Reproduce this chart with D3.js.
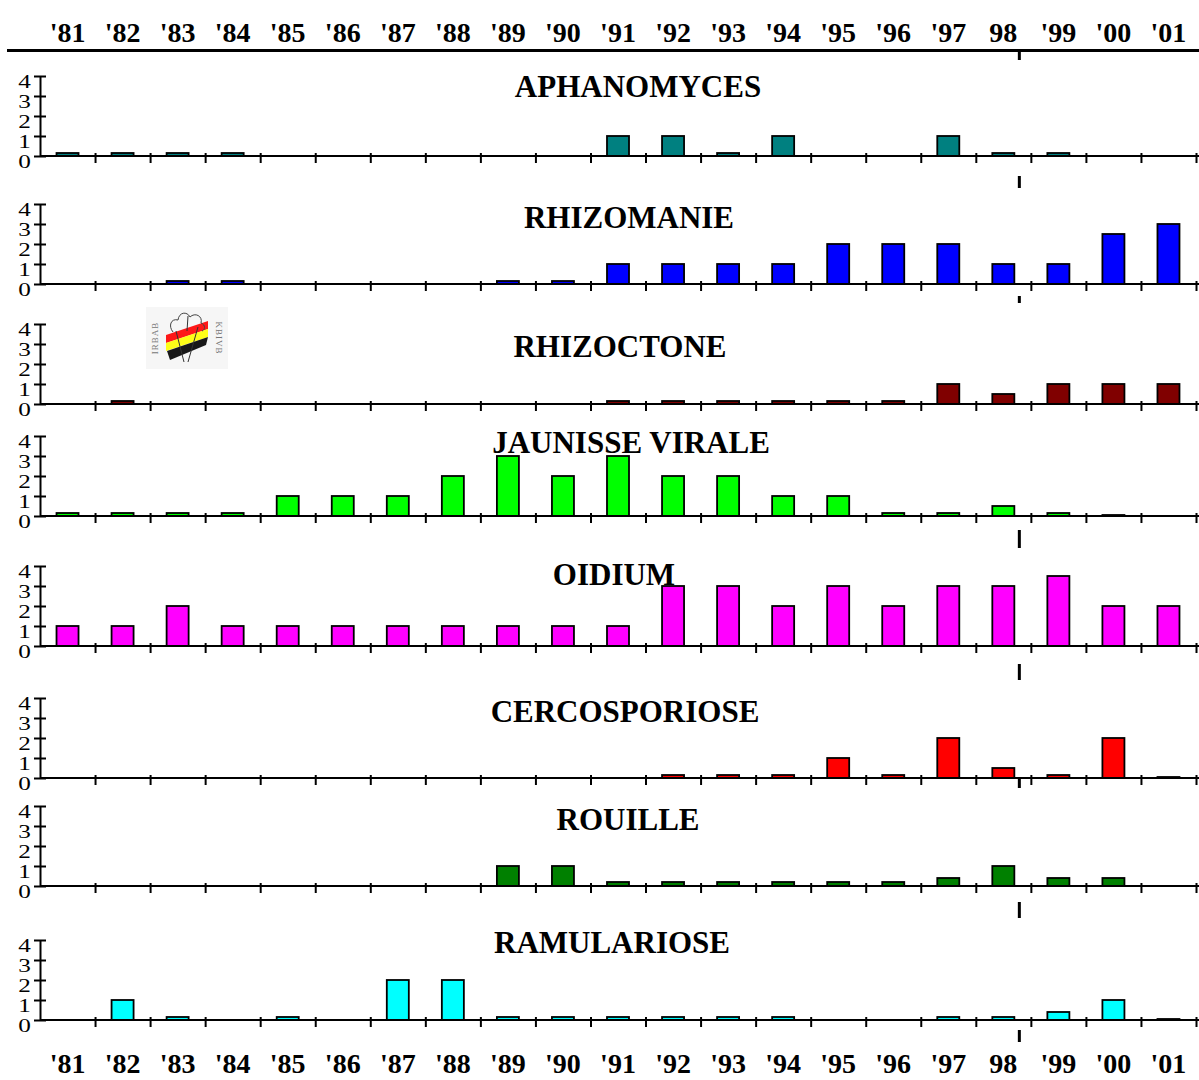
<!DOCTYPE html>
<html lang="fr">
<head>
<meta charset="UTF-8" />
<title>Maladies de la betterave 1981-2001</title>
<style>
  body { margin: 0; background: #fff; font-family: 'Liberation Serif', 'Times New Roman', serif; }
  svg { display: block; }
  .year { font-size: 28px; font-weight: bold; text-anchor: middle; }
  .title { font-size: 31px; font-weight: bold; text-anchor: middle; }
  .y-axis line, .y-axis path, .x-ticks line { stroke: #000; stroke-width: 2; }
  .bar { stroke: #000; stroke-width: 1.8; }
</style>
</head>
<body>
<script src="https://d3js.org/d3.v7.min.js"></script>
<script>
const years = ["'81", "'82", "'83", "'84", "'85", "'86", "'87", "'88", "'89", "'90", "'91",
  "'92", "'93", "'94", "'95", "'96", "'97", "98", "'99", "'00", "'01"];
const diseases = ['APHANOMYCES', 'RHIZOMANIE', 'RHIZOCTONE', 'JAUNISSE VIRALE',
  'OIDIUM', 'CERCOSPORIOSE', 'ROUILLE', 'RAMULARIOSE'];

const aphanomyces   = [0.15, 0.15, 0.15, 0.15, 0, 0, 0, 0, 0, 0, 1, 1, 0.15, 1, 0, 0, 1, 0.15, 0.15, 0, 0];
const rhizomanie    = [0, 0, 0.15, 0.15, 0, 0, 0, 0, 0.15, 0.15, 1, 1, 1, 1, 2, 2, 2, 1, 1, 2.5, 3];
const rhizoctone    = [0, 0.15, 0, 0, 0, 0, 0, 0, 0, 0, 0.15, 0.15, 0.15, 0.15, 0.15, 0.15, 1, 0.5, 1, 1, 1];
const jaunisse      = [0.15, 0.15, 0.15, 0.15, 1, 1, 1, 2, 3, 2, 3, 2, 2, 1, 1, 0.15, 0.15, 0.5, 0.15, 0.05, 0];
const oidium        = [1, 1, 2, 1, 1, 1, 1, 1, 1, 1, 1, 3, 3, 2, 3, 2, 3, 3, 3.5, 2, 2];
const cercosporiose = [0, 0, 0, 0, 0, 0, 0, 0, 0, 0, 0, 0.15, 0.15, 0.15, 1, 0.15, 2, 0.5, 0.15, 2, 0.05];
const rouille       = [0, 0, 0, 0, 0, 0, 0, 0, 1, 1, 0.2, 0.2, 0.2, 0.2, 0.2, 0.2, 0.4, 1, 0.4, 0.4, 0];
const ramulariose   = [0, 1, 0.15, 0, 0.15, 0, 2, 2, 0.15, 0.15, 0.15, 0.15, 0.15, 0.15, 0, 0, 0.15, 0.15, 0.4, 1, 0.05];

const series = [aphanomyces, rhizomanie, rhizoctone, jaunisse, oidium, cercosporiose, rouille, ramulariose];
const colors = ['#008080', '#0000ff', '#800000', '#00ff00', '#ff00ff', '#ff0000', '#008000', '#00ffff'];
const yTicks = [0, 1, 2, 3, 4];

// mise en page
const width = 1199;
const height = 1080;
const axisX = 40;
const axisEnd = 1196;
const panelH = 80;
const baselines = [156, 284, 404, 516, 646, 778, 886, 1020];
const titleYs = [97, 228, 357, 453, 585, 722, 830, 953];
const titleXs = [638, 629, 620, 631, 614, 625, 628, 612];
const markerGaps = [[20, 32], [12, 19], null, [14, 32], [18, 34], [1, 10], [16, 32], [10, 22]];

const svg = d3.select('body').append('svg').attr('width', width).attr('height', height);

const x = d3.scaleBand().domain(years).range([axisX, axisEnd]).paddingInner(0.6).paddingOuter(0.3);
const xEdge = d3.scaleLinear().domain([0, years.length]).range([axisX, axisEnd]);
const markerX = x('98') + x.bandwidth() + 5;

// années en haut et en bas
const yearRows = [42, 1073];
yearRows.forEach((ty) => {
  svg.append('g')
    .selectAll('text')
    .data(years)
    .join('text')
    .attr('class', 'year')
    .attr('x', (d) => x(d) + x.bandwidth() / 2)
    .attr('y', ty)
    .text((d) => d);
});

svg.append('line')
  .attr('x1', 7).attr('x2', width)
  .attr('y1', 50.5).attr('y2', 50.5)
  .attr('stroke', '#000').attr('stroke-width', 3);

svg.append('line')
  .attr('x1', markerX).attr('x2', markerX)
  .attr('y1', 52).attr('y2', 60)
  .attr('stroke', '#000').attr('stroke-width', 3);

diseases.forEach((name, i) => {
  const base = baselines[i];
  const y = d3.scaleLinear().domain([0, 4]).range([base, base - panelH]);
  const g = svg.append('g').attr('class', 'panel');

  // barres
  g.selectAll('rect')
    .data(series[i].map((v, k) => ({ year: years[k], value: v })).filter((d) => d.value > 0))
    .join('rect')
    .attr('class', 'bar')
    .attr('x', (d) => x(d.year))
    .attr('y', (d) => y(d.value))
    .attr('width', x.bandwidth())
    .attr('height', (d) => base - y(d.value))
    .attr('fill', colors[i]);

  // axe x
  g.append('line')
    .attr('x1', axisX).attr('x2', width)
    .attr('y1', base).attr('y2', base)
    .attr('stroke', '#000').attr('stroke-width', 2);

  const ticks = d3.range(1, years.length + 1);
  g.append('g').attr('class', 'x-ticks')
    .attr('transform', `translate(0,${base})`)
    .call(d3.axisBottom(xEdge).tickValues(ticks).tickSize(7).tickFormat(''))
    .call((s) => s.select('.domain').remove());
  g.append('g').attr('class', 'x-ticks')
    .attr('transform', `translate(0,${base})`)
    .call(d3.axisTop(xEdge).tickValues(ticks).tickSize(3).tickFormat(''))
    .call((s) => s.select('.domain').remove());

  // axe y
  g.append('g').attr('class', 'y-axis')
    .attr('transform', `translate(${axisX},0)`)
    .call(d3.axisLeft(y).tickValues(yTicks).tickSizeInner(6).tickSizeOuter(0).tickPadding(3).tickFormat(d3.format('d')))
    .call((s) => s.selectAll('text')
      .attr('x', -6.5)
      .attr('dy', '0.66em')
      .attr('transform', 'scale(1.4,1)')
      .attr('font-size', 18)
      .attr('font-family', "'Liberation Serif', 'Times New Roman', serif")
      .attr('fill', '#000'));
  g.append('g').attr('class', 'y-axis')
    .attr('transform', `translate(${axisX},0)`)
    .call(d3.axisRight(y).tickValues(yTicks).tickSize(6).tickFormat(''))
    .call((s) => s.select('.domain').remove());

  g.append('text')
    .attr('class', 'title')
    .attr('x', titleXs[i])
    .attr('y', titleYs[i])
    .text(name);

  if (markerGaps[i]) {
    g.append('line')
      .attr('x1', markerX).attr('x2', markerX)
      .attr('y1', base + markerGaps[i][0]).attr('y2', base + markerGaps[i][1])
      .attr('stroke', '#000').attr('stroke-width', 3);
  }
});

// logo IRBAB / KBIVB
const logo = svg.append('g').attr('transform', 'translate(146,307)');
logo.append('rect').attr('width', 82).attr('height', 62).attr('fill', '#f6f6f6');
const stripes = [
  { c: '#ff0000', p: [[20, 28], [62, 14], [62, 22], [20, 36]] },
  { c: '#ffff00', p: [[20, 36], [62, 22], [62, 30], [20, 44]] },
  { c: '#000000', p: [[21, 44], [62, 30], [60, 38], [24, 53]] }
];
logo.selectAll('polygon')
  .data(stripes)
  .join('polygon')
  .attr('points', (d) => d.p.map((q) => q.join(',')).join(' '))
  .attr('fill', (d) => d.c)
  .attr('opacity', 0.9);
logo.append('path')
  .attr('d', 'M27,25 C22,19 25,11 32,13 C33,5 41,4 44,10 C49,5 57,9 55,16 C60,18 59,23 56,24')
  .attr('fill', 'none').attr('stroke', '#444').attr('stroke-width', 1);
logo.append('path')
  .attr('d', 'M30,24 L38,55 M52,20 L42,55 M42,9 L41,24')
  .attr('fill', 'none').attr('stroke', '#333').attr('stroke-width', 1);
logo.append('text')
  .attr('transform', 'translate(12,31) rotate(-90)')
  .attr('text-anchor', 'middle')
  .attr('font-size', 9).attr('letter-spacing', 1).attr('fill', '#777')
  .text('IRBAB');
logo.append('text')
  .attr('transform', 'translate(70,31) rotate(90)')
  .attr('text-anchor', 'middle')
  .attr('font-size', 9).attr('letter-spacing', 1).attr('fill', '#777')
  .text('KBIVB');
</script>
</body>
</html>
